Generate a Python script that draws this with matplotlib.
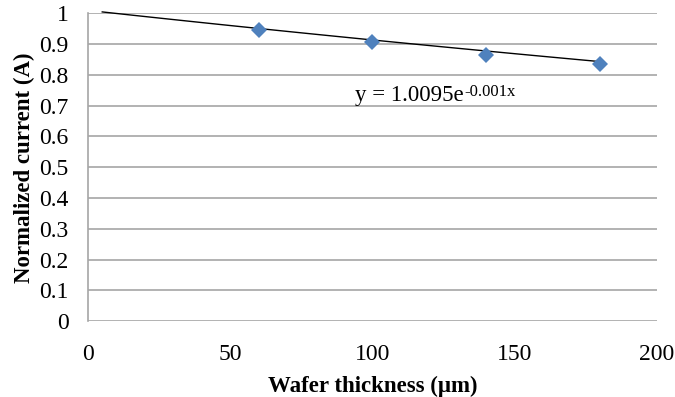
"""
Normalized current vs wafer thickness, with exponential trendline
"""
import numpy as np
import matplotlib
matplotlib.use("Agg")
import matplotlib.pyplot as plt

plt.rcParams['font.family'] = ['Liberation Serif', 'DejaVu Serif']

# data
thickness = [60, 100, 140, 180]
current = [0.945, 0.908, 0.864, 0.835]

# trendline as printed on the chart: y = a * exp(b x)
trend_a = 1.0095
trend_b = -0.001
trend_range = [5, 180]

xticks = [0, 50, 100, 150, 200]
yticks = [0, 0.1, 0.2, 0.3, 0.4, 0.5, 0.6, 0.7, 0.8, 0.9, 1]
yticklabels = ['0', '0.1', '0.2', '0.3', '0.4', '0.5', '0.6', '0.7', '0.8', '0.9', '1']

fig = plt.figure(figsize=(6.75, 3.97), dpi=100)
ax = fig.add_axes([0.1304, 0.1907, 0.8426, 0.7758])

# gridlines
for y in yticks:
    ax.axhline(y, color='#a6a6a6', linewidth=1.2, zorder=1)

xt = np.linspace(trend_range[0], trend_range[1], 100)
ax.plot(xt, trend_a * np.exp(trend_b * xt), color='black', linewidth=1.0, zorder=3, clip_on=False)

ax.plot(thickness, current, 'D', color='#4f81bd', markersize=8.5, zorder=4, markeredgewidth=0)

# equation label, superscript placed right after the base text
eq = ax.text(94, 0.715, 'y = 1.0095e', fontsize=16.5, va='baseline')
ax.annotate('-0.001x', xy=(1, 0), xycoords=eq, xytext=(0.5, 7.5), textcoords='offset points',
            fontsize=12, va='baseline', ha='left')

ax.set_xlim(0, 200)
ax.set_ylim(0, 1)
ax.set_xticks(xticks)
ax.set_yticks(yticks)
ax.set_yticklabels(yticklabels)
ax.tick_params(length=0, labelsize=17)
ax.tick_params(axis='y', pad=14)
ax.tick_params(axis='x', pad=16)

for s in ['top', 'right', 'bottom']:
    ax.spines[s].set_visible(False)
ax.spines['left'].set_color('#a6a6a6')
ax.spines['left'].set_linewidth(1.2)

ax.set_xlabel('Wafer thickness (μm)', fontsize=16.5, fontweight='bold', labelpad=8)
ax.set_ylabel('Normalized current (A)', fontsize=16.5, fontweight='bold', labelpad=3)

plt.savefig('out.png', dpi=100)
